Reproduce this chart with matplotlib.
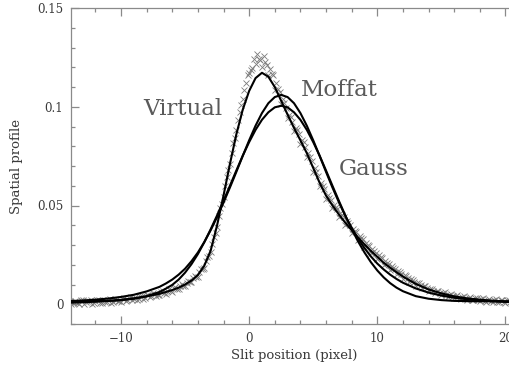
import matplotlib
matplotlib.use("Agg")
import matplotlib.pyplot as plt
from matplotlib.ticker import MultipleLocator, FixedFormatter, FixedLocator

# ---- data ----
# fit curves (Gauss, Moffat) and the "Virtual" profile, sampled on a common grid
grid_x = [-14, -13, -12, -11, -10, -9, -8, -7,
          -6.5, -6, -5.5, -5, -4.5, -4, -3.5, -3, -2.5, -2, -1.5, -1, -0.5,
          0, 0.5, 1, 1.5, 2, 2.5, 3, 3.5, 4, 4.5, 5, 5.5, 6, 6.5, 7, 7.5,
          8, 8.5, 9, 9.5, 10, 10.5, 11, 11.5,
          12, 13, 14, 15, 16, 17, 18, 19, 20, 21]

gauss_y = [0.0015, 0.0015, 0.0016, 0.0017, 0.0021, 0.0028, 0.0041, 0.0062,
           0.0079, 0.0098, 0.0125, 0.0160, 0.0203, 0.0254, 0.0314, 0.0380, 0.0450, 0.0524, 0.0600, 0.0677, 0.0752,
           0.0821, 0.0883, 0.0934, 0.0972, 0.0997, 0.1005, 0.0997, 0.0972, 0.0934, 0.0883, 0.0821, 0.0752, 0.0677, 0.0600, 0.0524, 0.0450,
           0.0381, 0.0318, 0.0262, 0.0213, 0.0171, 0.0136, 0.0107, 0.0084,
           0.0066, 0.0041, 0.0028, 0.0021, 0.0017, 0.0016, 0.0015, 0.0015, 0.0015, 0.0015]

moffat_y = [0.0016, 0.0019, 0.0023, 0.0029, 0.0037, 0.0048, 0.0065, 0.0088,
            0.0105, 0.0125, 0.0150, 0.0180, 0.0218, 0.0262, 0.0315, 0.0375, 0.0442, 0.0515, 0.0591, 0.0670, 0.0751,
            0.0830, 0.0904, 0.0968, 0.1018, 0.1049, 0.1060, 0.1049, 0.1018, 0.0968, 0.0904, 0.0830, 0.0751, 0.0670, 0.0591, 0.0517, 0.0448,
            0.0387, 0.0332, 0.0284, 0.0242, 0.0206, 0.0176, 0.0150, 0.0128,
            0.0109, 0.0080, 0.0059, 0.0044, 0.0033, 0.0025, 0.0020, 0.0015, 0.0012, 0.0009]

virtual_y = [0.0008, 0.0010, 0.0013, 0.0017, 0.0022, 0.0030, 0.0040, 0.0053,
             0.0062, 0.0072, 0.0084, 0.0100, 0.0120, 0.0148, 0.0195, 0.0272, 0.0400, 0.0550, 0.0710, 0.0860, 0.0985,
             0.1080, 0.1145, 0.1172, 0.1152, 0.1100, 0.1030, 0.0960, 0.0893, 0.0830, 0.0765, 0.0690, 0.0615, 0.0550, 0.0500, 0.0455, 0.0413,
             0.0375, 0.0338, 0.0303, 0.0270, 0.0240, 0.0210, 0.0185, 0.0162,
             0.0140, 0.0103, 0.0075, 0.0055, 0.0040, 0.0030, 0.0023, 0.0018, 0.0014, 0.0011]

# measured points (crosses), first set
pts_x = [-14.00, -13.75, -13.50, -13.25, -13.00, -12.75, -12.50, -12.25, -12.00, -11.75,
         -11.50, -11.25, -11.00, -10.75, -10.50, -10.25, -10.00, -9.75, -9.50, -9.25,
         -9.00, -8.75, -8.50, -8.25, -8.00, -7.75, -7.50, -7.25, -7.00, -6.75,
         -6.50, -6.25, -6.00, -5.75, -5.50, -5.25, -5.00, -4.75, -4.50, -4.25,
         -4.00, -3.75, -3.50, -3.25, -3.00, -2.75, -2.50, -2.25, -2.00, -1.75,
         -1.50, -1.25, -1.00, -0.75, -0.50, -0.25, 0.00, 0.25, 0.50, 0.75,
         1.00, 1.25, 1.50, 1.75, 2.00, 2.25, 2.50, 2.75, 3.00, 3.25,
         3.50, 3.75, 4.00, 4.25, 4.50, 4.75, 5.00, 5.25, 5.50, 5.75,
         6.00, 6.25, 6.50, 6.75, 7.00, 7.25, 7.50, 7.75, 8.00, 8.25,
         8.50, 8.75, 9.00, 9.25, 9.50, 9.75, 10.00, 10.25, 10.50, 10.75,
         11.00, 11.25, 11.50, 11.75, 12.00, 12.25, 12.50, 12.75, 13.00, 13.25,
         13.50, 13.75, 14.00, 14.25, 14.50, 14.75, 15.00, 15.25, 15.50, 15.75,
         16.00, 16.25, 16.50, 16.75, 17.00, 17.25, 17.50, 17.75, 18.00, 18.25,
         18.50, 18.75, 19.00, 19.25, 19.50, 19.75, 20.00, 20.25, 20.50, 20.75, 21.00]
pts_y = [0.0016, 0.0004, 0.0011, 0.0000, 0.0022, 0.0009, 0.0017, 0.0003, 0.0014, 0.0024,
         0.0008, 0.0013, 0.0023, 0.0004, 0.0028, 0.0018, 0.0012, 0.0030, 0.0021, 0.0035,
         0.0026, 0.0022, 0.0043, 0.0029, 0.0047, 0.0036, 0.0055, 0.0042, 0.0049, 0.0066,
         0.0054, 0.0075, 0.0064, 0.0085, 0.0078, 0.0101, 0.0091, 0.0119, 0.0112, 0.0142,
         0.0139, 0.0178, 0.0186, 0.0241, 0.0263, 0.0342, 0.0391, 0.0488, 0.0541, 0.0645,
         0.0712, 0.0815, 0.0880, 0.0975, 0.1040, 0.1120, 0.1170, 0.1195, 0.1215, 0.1240,
         0.1200, 0.1225, 0.1160, 0.1165, 0.1085, 0.1088, 0.1012, 0.1018, 0.0942, 0.0948,
         0.0876, 0.0880, 0.0812, 0.0820, 0.0748, 0.0745, 0.0672, 0.0670, 0.0598, 0.0600,
         0.0535, 0.0540, 0.0486, 0.0492, 0.0442, 0.0450, 0.0400, 0.0409, 0.0362, 0.0371,
         0.0326, 0.0334, 0.0290, 0.0300, 0.0258, 0.0268, 0.0228, 0.0238, 0.0199, 0.0209,
         0.0174, 0.0185, 0.0152, 0.0162, 0.0130, 0.0141, 0.0112, 0.0122, 0.0094, 0.0106,
         0.0080, 0.0092, 0.0067, 0.0079, 0.0057, 0.0069, 0.0047, 0.0060, 0.0039, 0.0052,
         0.0032, 0.0046, 0.0027, 0.0041, 0.0022, 0.0036, 0.0019, 0.0033, 0.0015, 0.0030,
         0.0013, 0.0027, 0.0010, 0.0025, 0.0009, 0.0023, 0.0006, 0.0021, 0.0005, 0.0019, 0.0004]

# measured points (crosses), second set between the first
pts2_x = [-13.875, -13.625, -13.375, -13.125, -12.875, -12.625, -12.375, -12.125, -11.875, -11.625,
          -11.375, -11.125, -10.875, -10.625, -10.375, -10.125, -9.875, -9.625, -9.375, -9.125,
          -8.875, -8.625, -8.375, -8.125, -7.875, -7.625, -7.375, -7.125, -6.875, -6.625,
          -6.375, -6.125, -5.875, -5.625, -5.375, -5.125, -4.875, -4.625, -4.375, -4.125,
          -3.875, -3.625, -3.375, -3.125, -2.875, -2.625, -2.375, -2.125, -1.875, -1.625,
          -1.375, -1.125, -0.875, -0.625, -0.375, -0.125, 0.125, 0.375, 0.625, 0.875,
          1.125, 1.375, 1.625, 1.875, 2.125, 2.375, 2.625, 2.875, 3.125, 3.375,
          3.625, 3.875, 4.125, 4.375, 4.625, 4.875, 5.125, 5.375, 5.625, 5.875,
          6.125, 6.375, 6.625, 6.875, 7.125, 7.375, 7.625, 7.875, 8.125, 8.375,
          8.625, 8.875, 9.125, 9.375, 9.625, 9.875, 10.125, 10.375, 10.625, 10.875,
          11.125, 11.375, 11.625, 11.875, 12.125, 12.375, 12.625, 12.875, 13.125, 13.375,
          13.625, 13.875, 14.125, 14.375, 14.625, 14.875, 15.125, 15.375, 15.625, 15.875,
          16.125, 16.375, 16.625, 16.875, 17.125, 17.375, 17.625, 17.875, 18.125, 18.375,
          18.625, 18.875, 19.125, 19.375, 19.625, 19.875, 20.125, 20.375, 20.625, 20.875]
pts2_y = [0.0002, 0.0014, 0.0006, 0.0019, 0.0003, 0.0015, 0.0021, 0.0007, 0.0019, 0.0005,
          0.0022, 0.0010, 0.0026, 0.0011, 0.0024, 0.0015, 0.0027, 0.0016, 0.0032, 0.0024,
          0.0038, 0.0028, 0.0041, 0.0033, 0.0048, 0.0040, 0.0053, 0.0045, 0.0061, 0.0058,
          0.0068, 0.0066, 0.0080, 0.0079, 0.0093, 0.0094, 0.0110, 0.0112, 0.0132, 0.0136,
          0.0162, 0.0177, 0.0218, 0.0245, 0.0305, 0.0360, 0.0445, 0.0510, 0.0598, 0.0680,
          0.0765, 0.0840, 0.0935, 0.1010, 0.1085, 0.1160, 0.1185, 0.1240, 0.1265, 0.1235,
          0.1255, 0.1210, 0.1190, 0.1160, 0.1122, 0.1075, 0.1040, 0.0995, 0.0960, 0.0925,
          0.0892, 0.0860, 0.0830, 0.0796, 0.0765, 0.0725, 0.0690, 0.0650, 0.0615, 0.0582,
          0.0552, 0.0528, 0.0505, 0.0482, 0.0462, 0.0440, 0.0420, 0.0402, 0.0383, 0.0364,
          0.0347, 0.0328, 0.0312, 0.0294, 0.0279, 0.0262, 0.0249, 0.0232, 0.0219, 0.0203,
          0.0192, 0.0178, 0.0168, 0.0155, 0.0146, 0.0133, 0.0126, 0.0114, 0.0108, 0.0096,
          0.0091, 0.0081, 0.0078, 0.0069, 0.0066, 0.0058, 0.0056, 0.0047, 0.0049, 0.0040,
          0.0042, 0.0034, 0.0037, 0.0029, 0.0033, 0.0024, 0.0030, 0.0021, 0.0027, 0.0018,
          0.0024, 0.0015, 0.0022, 0.0013, 0.0020, 0.0011, 0.0019, 0.0010, 0.0017, 0.0009]

x_ticks = [-10, 0, 10, 20]
x_tick_labels = ["\u221210", "0", "10", "20"]
y_ticks = [0, 0.05, 0.1, 0.15]
y_tick_labels = ["0", "0.05", "0.1", "0.15"]

labels = ["Virtual", "Moffat", "Gauss"]
label_pos = [(-8.3, 0.0957), (4.05, 0.1054), (7.0, 0.0653)]

# ---- figure ----
fig = plt.figure(figsize=(5.10, 3.67), dpi=100)
ax = fig.add_axes([71 / 510, 43 / 367, 446 / 510, 316 / 367])

serif = "DejaVu Serif"
gray = "#8a8a8a"

for xs, ys in ((pts_x, pts_y), (pts2_x, pts2_y)):
    ax.plot(xs, ys, linestyle="none", marker="x", markersize=4.5,
            markeredgewidth=0.6, color="#7a7a7a", zorder=2)
ax.plot(grid_x, virtual_y, color="black", lw=1.5, zorder=3)
ax.plot(grid_x, moffat_y, color="black", lw=1.5, zorder=3)
ax.plot(grid_x, gauss_y, color="black", lw=1.5, zorder=3)

for txt, (tx, ty) in zip(labels, label_pos):
    ax.text(tx, ty, txt, fontsize=16.5, family=serif, color="#5a5a5a",
            ha="left", va="baseline")

ax.set_xlim(-13.9, 20.9)
ax.set_ylim(-0.01, 0.15)

ax.xaxis.set_major_locator(FixedLocator(x_ticks))
ax.xaxis.set_major_formatter(FixedFormatter(x_tick_labels))
ax.yaxis.set_major_locator(FixedLocator(y_ticks))
ax.yaxis.set_major_formatter(FixedFormatter(y_tick_labels))
ax.xaxis.set_minor_locator(MultipleLocator(2))
ax.yaxis.set_minor_locator(MultipleLocator(0.01))

ax.tick_params(which="both", direction="in", top=True, right=True,
               color=gray, width=0.9)
ax.tick_params(which="major", length=6, pad=5.5, labelsize=8.5,
               labelcolor="#3a3a3a")
ax.tick_params(which="minor", length=3)
for lab in ax.get_xticklabels() + ax.get_yticklabels():
    lab.set_family(serif)

for s in ax.spines.values():
    s.set_color(gray)
    s.set_linewidth(0.9)

ax.set_xlabel("Slit position (pixel)", family=serif, fontsize=9.5,
              color="#3a3a3a", labelpad=3)
ax.set_ylabel("Spatial profile", family=serif, fontsize=9.5,
              color="#3a3a3a", labelpad=10)

fig.savefig("out.png", dpi=100)
